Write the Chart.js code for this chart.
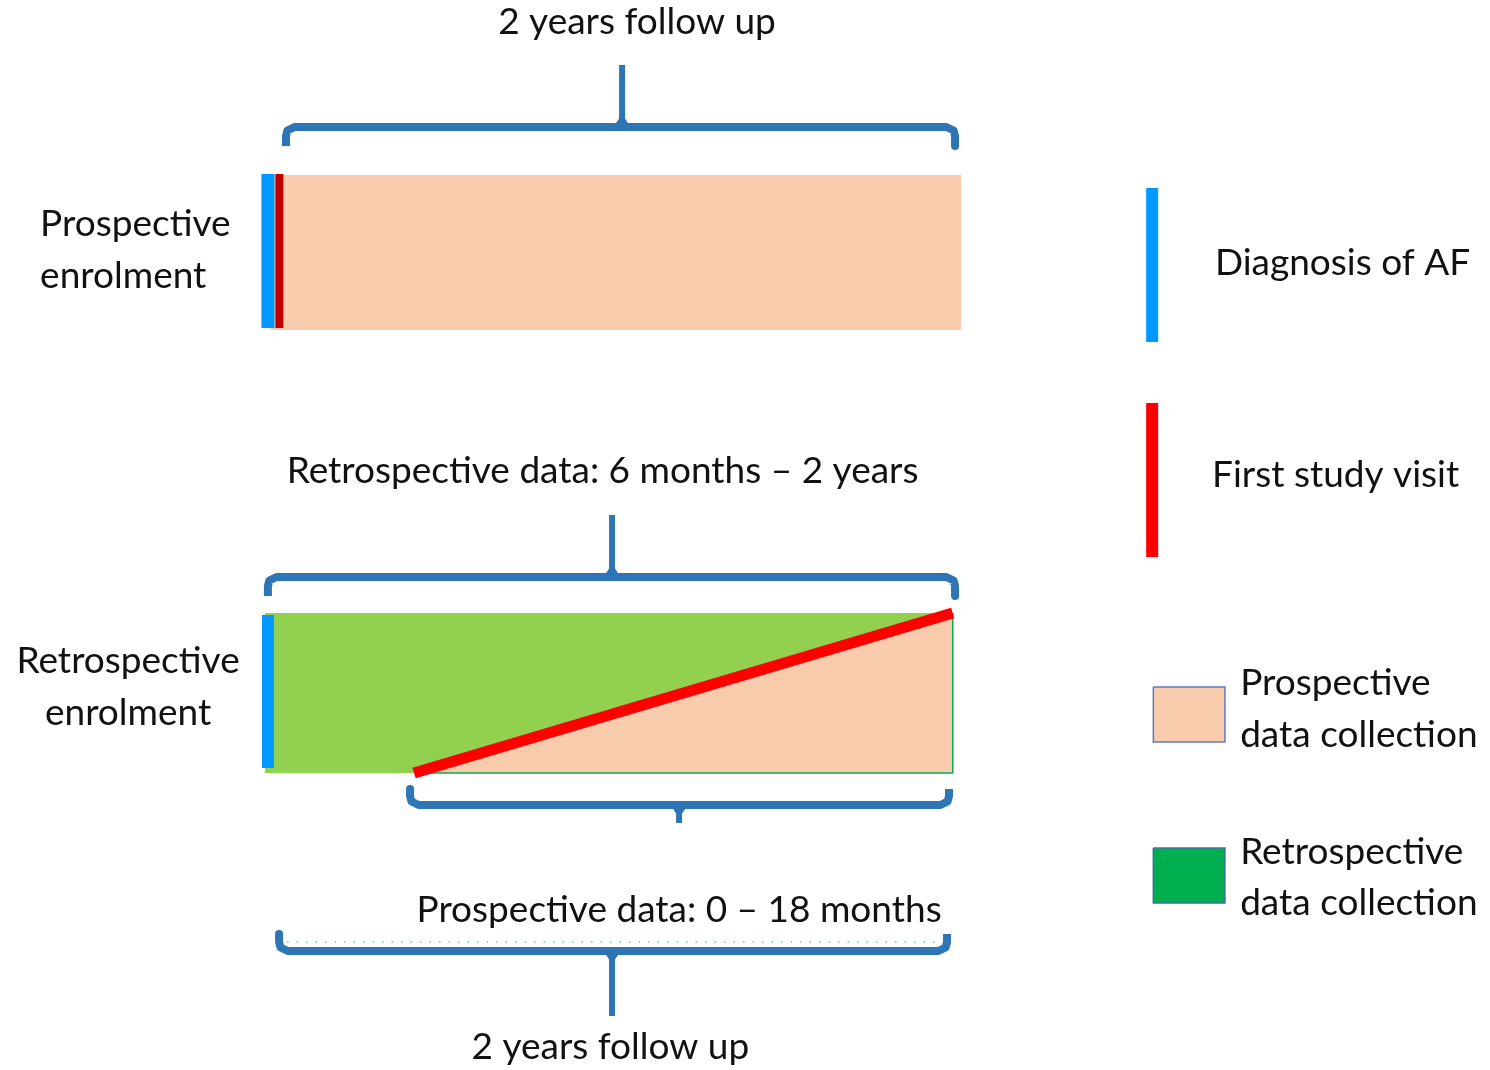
<!DOCTYPE html>
<html>
<head>
<meta charset="utf-8">
<title>Study design</title>
<script src="https://cdn.jsdelivr.net/npm/chart.js@4/dist/chart.umd.min.js"></script>
<style>
  html, body { margin: 0; padding: 0; background: #fff; }
  canvas { display: block; }
</style>
</head>
<body>
<canvas id="design" width="1490" height="1070"></canvas>
<script>
// x = time in months (0 = diagnosis), y = diagram rows (0 = top)
const prospectiveBarX = [0.2, 24.3];
const prospectiveBarY = [17.5, 33.0];
const retroBarX = [0, 24];
const retroBarY = [61.3, 77.3];
const firstVisitRetroX = [5.2, 24.0];     // red diagonal: first visit moves from ~6 months to 2 years
const diagnosisX = [0.1, 0.1];            // blue markers (prospective, retrospective)
const diagnosisY = [[17.4, 32.8], [61.5, 76.8]];
const firstVisitProspX = 0.5;

// brackets: left end, right end, bar level, end tips, stem position, stem tip
const bracketLeft = [0.73, 0.1, 5.06, 0.49];
const bracketRight = [24.08, 24.08, 23.87, 23.8];
const bracketY = [12.7, 57.7, 80.5, 95.1];
const bracketEndY = [14.6, 59.6, 78.9, 93.4];
const bracketStemX = [12.46, 12.11, 14.45, 12.11];
const bracketStemY = [6.5, 51.5, 82.3, 101.6];

// legend
const legendLineX = 30.96;
const legendLineY = [[18.8, 34.2], [40.3, 55.7]];
const legendBoxX = [31.0, 33.5];
const legendBoxY = [[68.7, 74.2], [84.8, 90.3]];

const PEACH = '#f8cbad';
const GREEN = '#92d050';
const DARK_GREEN = '#00b050';
const BLUE = '#0099ff';
const RED = '#ff0000';
const DARK_RED = '#c00000';
const BRACKET = '#2e75b6';

const labels = [
  { text: '2 years follow up', x: 12.98, y: 2.2, align: 'center' },
  { text: 'Prospective', x: -7.85, y: 22.4, align: 'left' },
  { text: 'enrolment', x: -7.85, y: 27.6, align: 'left' },
  { text: 'Retrospective data: 6 months \u2013 2 years', x: 11.78, y: 47.1, align: 'center' },
  { text: 'Retrospective', x: -4.78, y: 66.1, align: 'center' },
  { text: 'enrolment', x: -4.78, y: 71.3, align: 'center' },
  { text: 'Prospective data: 0 \u2013 18 months', x: 14.45, y: 91.0, align: 'center' },
  { text: '2 years follow up', x: 12.05, y: 104.7, align: 'center' },
  { text: 'Diagnosis of AF', x: 33.15, y: 26.3, align: 'left' },
  { text: 'First study visit', x: 33.05, y: 47.5, align: 'left' },
  { text: 'Prospective', x: 34.03, y: 68.3, align: 'left' },
  { text: 'data collection', x: 34.03, y: 73.5, align: 'left' },
  { text: 'Retrospective', x: 34.03, y: 85.2, align: 'left' },
  { text: 'data collection', x: 34.03, y: 90.3, align: 'left' }
];

const datasets = [];

function area(xs, top, bottom, color) {
  datasets.push({
    data: xs.map(x => ({ x: x, y: top })),
    borderWidth: 0,
    borderColor: 'rgba(0,0,0,0)',
    fill: { target: { value: bottom }, above: color, below: color }
  });
}

function stroke(points, color, width, extra) {
  datasets.push(Object.assign({
    data: points,
    borderColor: color,
    borderWidth: width,
    fill: false
  }, extra || {}));
}

// prospective enrolment bar
area(prospectiveBarX, prospectiveBarY[0], prospectiveBarY[1], PEACH);

// retrospective enrolment bar: green background, peach triangle under the diagonal
area(retroBarX, retroBarY[0], retroBarY[1], GREEN);
datasets.push({
  data: [{ x: firstVisitRetroX[0], y: retroBarY[1] }, { x: firstVisitRetroX[1], y: retroBarY[0] }],
  borderWidth: 0,
  borderColor: 'rgba(0,0,0,0)',
  fill: { target: { value: retroBarY[1] }, above: PEACH, below: PEACH }
});
stroke([
  { x: firstVisitRetroX[0], y: retroBarY[1] },
  { x: retroBarX[1], y: retroBarY[1] },
  { x: retroBarX[1], y: retroBarY[0] }
], DARK_GREEN, 1.5);

// brackets (rounded ends)
bracketLeft.forEach((x0, i) => {
  const x1 = bracketRight[i];
  const y = bracketY[i];
  const e = bracketEndY[i];
  const dir = e > y ? 1 : -1;
  stroke([
    { x: x0, y: e },
    { x: x0, y: y + dir * 0.9 },
    { x: x0 + 0.05, y: y + dir * 0.35 },
    { x: x0 + 0.3, y: y },
    { x: x1 - 0.3, y: y },
    { x: x1 - 0.05, y: y + dir * 0.35 },
    { x: x1, y: y + dir * 0.9 },
    { x: x1, y: e }
  ], BRACKET, 8, { borderJoinStyle: 'round', borderCapStyle: 'butt' });
  stroke([
    { x: bracketStemX[i], y: y },
    { x: bracketStemX[i], y: bracketStemY[i] }
  ], BRACKET, 6);
  // small wedge where the stem meets the bracket
  datasets.push({
    data: [
      { x: bracketStemX[i] - 0.3, y: y },
      { x: bracketStemX[i], y: y - dir * 1.3 },
      { x: bracketStemX[i] + 0.3, y: y }
    ],
    borderWidth: 0,
    borderColor: 'rgba(0,0,0,0)',
    fill: { target: { value: y }, above: BRACKET, below: BRACKET }
  });
});

// dotted line inside the lowest bracket
stroke([{ x: 0.77, y: 94.2 }, { x: 23.56, y: 94.2 }], '#7fb0e0', 1.5, { borderDash: [1.5, 8] });

// markers on the bars
stroke([{ x: diagnosisX[0], y: diagnosisY[0][0] }, { x: diagnosisX[0], y: diagnosisY[0][1] }], BLUE, 13, { borderCapStyle: 'butt' });
stroke([{ x: firstVisitProspX, y: diagnosisY[0][0] }, { x: firstVisitProspX, y: diagnosisY[0][1] }], DARK_RED, 8);
stroke([{ x: diagnosisX[1], y: diagnosisY[1][0] }, { x: diagnosisX[1], y: diagnosisY[1][1] }], BLUE, 12);
stroke([
  { x: firstVisitRetroX[0], y: retroBarY[1] },
  { x: firstVisitRetroX[1], y: retroBarY[0] }
], RED, 11);

// legend marks
stroke([{ x: legendLineX, y: legendLineY[0][0] }, { x: legendLineX, y: legendLineY[0][1] }], BLUE, 12);
stroke([{ x: legendLineX, y: legendLineY[1][0] }, { x: legendLineX, y: legendLineY[1][1] }], RED, 12);
area(legendBoxX, legendBoxY[0][0], legendBoxY[0][1], PEACH);
area(legendBoxX, legendBoxY[1][0], legendBoxY[1][1], DARK_GREEN);
legendBoxY.forEach((b, i) => {
  stroke([
    { x: legendBoxX[0], y: b[0] }, { x: legendBoxX[1], y: b[0] },
    { x: legendBoxX[1], y: b[1] }, { x: legendBoxX[0], y: b[1] },
    { x: legendBoxX[0], y: b[0] }
  ], i === 0 ? '#5a7dbf' : '#41719c', 1.5, { borderJoinStyle: 'miter' });
});

// first dataset drawn first (lowest layer)
datasets.forEach((d, i) => {
  d.order = datasets.length - i;
  d.pointRadius = 0;
  d.tension = 0;
  d.clip = false;
});

const textLabels = {
  id: 'textLabels',
  afterDatasetsDraw(chart) {
    const ctx = chart.ctx;
    const xs = chart.scales.x, ys = chart.scales.y;
    ctx.save();
    ctx.fillStyle = '#111';
    ctx.font = '37px Lato, "Open Sans", sans-serif';
    ctx.textBaseline = 'middle';
    labels.forEach(l => {
      ctx.textAlign = l.align;
      ctx.fillText(l.text, xs.getPixelForValue(l.x), ys.getPixelForValue(l.y));
    });
    ctx.restore();
  }
};

new Chart(document.getElementById('design'), {
  type: 'line',
  data: { datasets: datasets },
  options: {
    responsive: false,
    animation: false,
    events: [],
    layout: { padding: 0 },
    plugins: {
      legend: { display: false },
      tooltip: { enabled: false },
      title: { display: false }
    },
    scales: {
      x: { type: 'linear', min: -9.25, max: 42.75, display: false },
      y: { type: 'linear', min: 0, max: 107, reverse: true, display: false }
    }
  },
  plugins: [textLabels]
});
</script>
</body>
</html>
